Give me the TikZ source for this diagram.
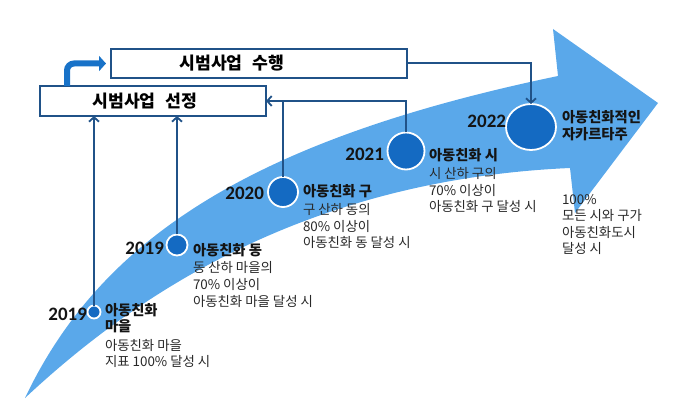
\documentclass[tikz,border=0pt]{standalone}
\usepackage{fontspec}
\setmainfont{Noto Sans CJK KR}
\newfontfamily\yearfont{Carlito}
\usetikzlibrary{arrows.meta,shapes.geometric}
\definecolor{bandc}{RGB}{90,168,234}
\definecolor{dotc}{RGB}{20,106,194}
\definecolor{linec}{RGB}{32,82,136}
\definecolor{fatc}{RGB}{24,114,200}
\definecolor{txtc}{RGB}{40,40,40}
\begin{document}
\begin{tikzpicture}[x=1pt,y=-1pt,
  every node/.style={inner sep=0pt,outer sep=0pt},
  conn/.style={draw=linec,line width=2pt},
  connarrow/.style={conn,-{Straight Barb[length=4.5pt,width=10pt,line width=1.8pt]}},
  fat/.style={draw=fatc,line width=6pt,rounded corners=7pt,-{Triangle[length=7pt,width=15pt]}},
  pbox/.style={draw=linec,line width=2.2pt,fill=white},
  boxtxt/.style={font=\fontsize{17.2}{20}\selectfont\bfseries},
  dotn/.style={circle,draw=white,line width=1.8pt,fill=dotc},
  yeartxt/.style={anchor=east,font=\yearfont\fontsize{19}{22}\selectfont\bfseries,text=black!92},
  headtxt/.style={anchor=west,align=left,font=\fontsize{14.3}{16.5}\selectfont\bfseries,text=black!92},
  bodytxt/.style={anchor=west,align=left,font=\fontsize{13.4}{16.6}\selectfont,text=txtc}]
\useasboundingbox (0,0) rectangle (683,414);
% big arrow
\fill[bandc] (25,398) .. controls (100,240) and (250,140) .. (558,76)
  -- (553,29) -- (658,103) -- (575,213) -- (570,168)
  .. controls (300,180) and (130,300) .. (25,398) -- cycle;
% boxes
\node[pbox,minimum width=296pt,minimum height=29pt] (run) at (259,63.5) {};
\node[boxtxt] (runt) at (232,63.5) {시범사업\hspace{0.6em}수행};
\node[pbox,minimum width=226pt,minimum height=30pt] (sel) at (153,101) {};
\node[boxtxt] (selt) at (145,101) {시범사업\hspace{0.6em}선정};
% dots
\node[dotn,minimum size=13pt] (c1) at (94,312) {};
\node[dotn,minimum size=21pt] (c2) at (177,245) {};
\node[dotn,minimum size=30pt] (c3) at (283,192) {};
\node[dotn,minimum size=37pt] (c4) at (406,151) {};
\node[dotn,ellipse,minimum width=50pt,minimum height=46pt] (c5) at (531,127) {};
% connectors
\draw[connarrow] (c1.north) -- (c1.north |- sel.south);
\draw[connarrow] (c2.north) -- (c2.north |- sel.south);
\draw[conn] (c3.north) -- (c3.north |- sel.east);
\draw[connarrow] (c4.north) |- (sel.east);
\draw[connarrow] (run.east) -| (c5.north);
\draw[fat] ([xshift=27pt]sel.north west) |- ([xshift=-5pt]run.west);
% texts
\node[yeartxt] (y1) at (87,314) {2019};
\node[headtxt] (h1) at (105,318) {아동친화\\마을};
\node[bodytxt] (b1) at (105,353.5) {아동친화 마을\\지표 100\% 달성 시};
\node[yeartxt] (y2) at (164,248) {2019};
\node[headtxt] (h2) at (193,250) {아동친화 동};
\node[bodytxt] (b2) at (193,284.5) {동 산하 마을의\\70\% 이상이\\아동친화 마을 달성 시};
\node[yeartxt] (y3) at (264,193) {2020};
\node[headtxt] (h3) at (303,191) {아동친화 구};
\node[bodytxt] (b3) at (303,226) {구 산하 동의\\80\% 이상이\\아동친화 동 달성 시};
\node[yeartxt] (y4) at (384,154) {2021};
\node[headtxt] (h4) at (429,155) {아동친화 시};
\node[bodytxt] (b4) at (429,190) {시 산하 구의\\70\% 이상이\\아동친화 구 달성 시};
\node[yeartxt] (y5) at (506,121) {2022};
\node[headtxt] (h5) at (562,125.5) {아동친화적인\\자카르타주};
\node[bodytxt] (b5) at (562,224.5) {100\%\\모든 시와 구가\\아동친화도시\\달성 시};
\end{tikzpicture}
\end{document}
